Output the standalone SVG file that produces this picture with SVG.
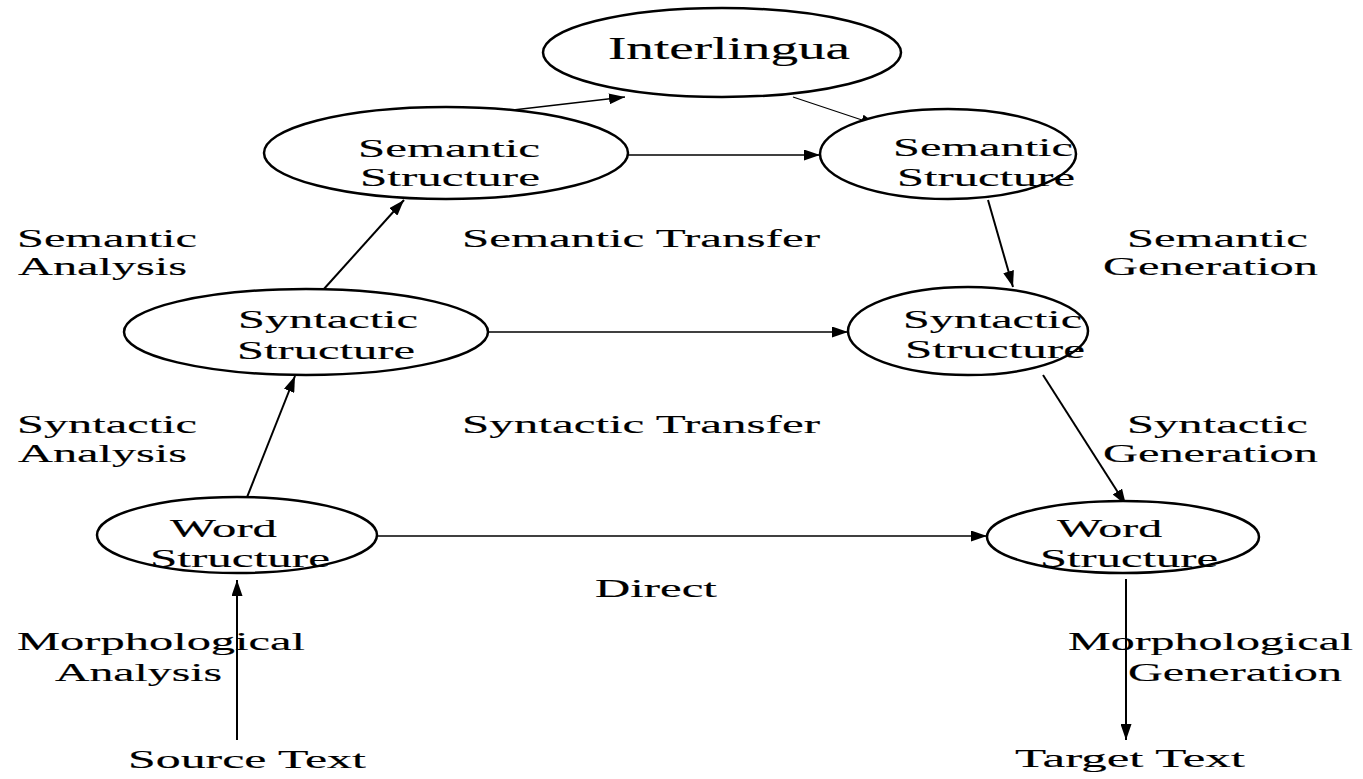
<svg xmlns="http://www.w3.org/2000/svg" width="1363" height="779" viewBox="0 0 1363 779">
  <style>
    .node ellipse { fill: #ffffff; stroke: #000000; stroke-width: 2.5; }
    text { font-family: "Liberation Serif", "Times New Roman", serif; font-size: 26px; fill: #000000; stroke: #000000; stroke-width: 0.15; }
    .big { font-size: 31px; }
    .thin { stroke: #000000; stroke-width: 1.3; fill: none; marker-end: url(#arrow); }
    .thick { stroke: #000000; stroke-width: 2; fill: none; marker-end: url(#arrow); }
  </style>
  <defs>
    <marker id="arrow" markerUnits="userSpaceOnUse" markerWidth="16" markerHeight="11" refX="16" refY="5.5" orient="auto">
      <path d="M0,0 L16,5.5 L0,11 z" fill="#000000" stroke="none"/>
    </marker>
  </defs>
  <rect width="1363" height="779" fill="#ffffff"/>

  <!-- connectors -->
  <g id="connectors">
    <line class="thin" x1="513" y1="110" x2="625" y2="97"/>
    <line class="thin" x1="793" y1="97" x2="877" y2="125"/>
    <line class="thin" x1="628" y1="155" x2="820" y2="155"/>
    <line class="thick" x1="988" y1="200" x2="1013" y2="287"/>
    <line class="thick" x1="323" y1="290" x2="404" y2="200"/>
    <line class="thin" x1="488" y1="332" x2="848" y2="332"/>
    <line class="thick" x1="1043" y1="375" x2="1126" y2="505"/>
    <line class="thick" x1="240" y1="515" x2="295" y2="376"/>
    <line class="thin" x1="377" y1="536" x2="987" y2="536"/>
    <line class="thick" x1="237" y1="740" x2="237" y2="580"/>
    <line class="thick" x1="1126" y1="579" x2="1126" y2="740"/>
  </g>

  <!-- nodes (text is set in a wide, horizontally stretched serif) -->
  <g id="interlingua" class="node">
    <ellipse cx="722" cy="52.5" rx="179" ry="44.5"/>
    <text class="big" transform="translate(608,59) scale(1.78,1)" textLength="136" lengthAdjust="spacingAndGlyphs">Interlingua</text>
  </g>
  <g id="semantic-source" class="node">
    <ellipse cx="446" cy="153" rx="182" ry="46"/>
    <text transform="translate(358,157) scale(1.85,1)" textLength="98.4" lengthAdjust="spacingAndGlyphs">Semantic</text>
    <text transform="translate(360,186) scale(1.85,1)" textLength="97.3" lengthAdjust="spacingAndGlyphs">Structure</text>
  </g>
  <g id="semantic-target" class="node">
    <ellipse cx="948" cy="154" rx="128" ry="45"/>
    <text transform="translate(893,156) scale(1.85,1)" textLength="97.3" lengthAdjust="spacingAndGlyphs">Semantic</text>
    <text transform="translate(897,186) scale(1.85,1)" textLength="96.2" lengthAdjust="spacingAndGlyphs">Structure</text>
  </g>
  <g id="syntactic-source" class="node">
    <ellipse cx="306" cy="332" rx="182" ry="43"/>
    <text transform="translate(238,328) scale(1.85,1)" textLength="97.3" lengthAdjust="spacingAndGlyphs">Syntactic</text>
    <text transform="translate(237,359) scale(1.85,1)" textLength="96.2" lengthAdjust="spacingAndGlyphs">Structure</text>
  </g>
  <g id="syntactic-target" class="node">
    <ellipse cx="968" cy="331" rx="120" ry="44"/>
    <text transform="translate(903,328) scale(1.85,1)" textLength="96.8" lengthAdjust="spacingAndGlyphs">Syntactic</text>
    <text transform="translate(905,358) scale(1.85,1)" textLength="97.3" lengthAdjust="spacingAndGlyphs">Structure</text>
  </g>
  <g id="word-source" class="node">
    <ellipse cx="237" cy="535" rx="140" ry="38"/>
    <text transform="translate(170,537) scale(1.85,1)" textLength="57.8" lengthAdjust="spacingAndGlyphs">Word</text>
    <text transform="translate(150,567) scale(1.85,1)" textLength="97.3" lengthAdjust="spacingAndGlyphs">Structure</text>
  </g>
  <g id="word-target" class="node">
    <ellipse cx="1123" cy="537" rx="136" ry="36"/>
    <text transform="translate(1057,537) scale(1.85,1)" textLength="56.8" lengthAdjust="spacingAndGlyphs">Word</text>
    <text transform="translate(1040,567) scale(1.85,1)" textLength="96.2" lengthAdjust="spacingAndGlyphs">Structure</text>
  </g>

  <!-- stage labels -->
  <g id="labels">
    <text transform="translate(17,247) scale(1.85,1)" textLength="97.3" lengthAdjust="spacingAndGlyphs">Semantic</text>
    <text transform="translate(18,275) scale(1.85,1)" textLength="91.4" lengthAdjust="spacingAndGlyphs">Analysis</text>
    <text transform="translate(17,433) scale(1.85,1)" textLength="97.3" lengthAdjust="spacingAndGlyphs">Syntactic</text>
    <text transform="translate(18,462) scale(1.85,1)" textLength="91.4" lengthAdjust="spacingAndGlyphs">Analysis</text>
    <text transform="translate(17,650) scale(1.85,1)" textLength="155.7" lengthAdjust="spacingAndGlyphs">Morphological</text>
    <text transform="translate(55,681) scale(1.85,1)" textLength="90.3" lengthAdjust="spacingAndGlyphs">Analysis</text>
    <text transform="translate(128,768) scale(1.85,1)" textLength="128.6" lengthAdjust="spacingAndGlyphs">Source Text</text>

    <text transform="translate(462,247) scale(1.85,1)" textLength="193.5" lengthAdjust="spacingAndGlyphs">Semantic Transfer</text>
    <text transform="translate(462,433) scale(1.85,1)" textLength="193.5" lengthAdjust="spacingAndGlyphs">Syntactic Transfer</text>
    <text transform="translate(595,597) scale(1.85,1)" textLength="65.9" lengthAdjust="spacingAndGlyphs">Direct</text>

    <text transform="translate(1127,247) scale(1.85,1)" textLength="97.8" lengthAdjust="spacingAndGlyphs">Semantic</text>
    <text transform="translate(1103,275) scale(1.85,1)" textLength="116.2" lengthAdjust="spacingAndGlyphs">Generation</text>
    <text transform="translate(1127,433) scale(1.85,1)" textLength="97.8" lengthAdjust="spacingAndGlyphs">Syntactic</text>
    <text transform="translate(1103,462) scale(1.85,1)" textLength="116.2" lengthAdjust="spacingAndGlyphs">Generation</text>
    <text transform="translate(1068,650) scale(1.85,1)" textLength="154.1" lengthAdjust="spacingAndGlyphs">Morphological</text>
    <text transform="translate(1128,681) scale(1.85,1)" textLength="115.7" lengthAdjust="spacingAndGlyphs">Generation</text>
    <text transform="translate(1015,767) scale(1.85,1)" textLength="124.3" lengthAdjust="spacingAndGlyphs">Target Text</text>
  </g>
</svg>
